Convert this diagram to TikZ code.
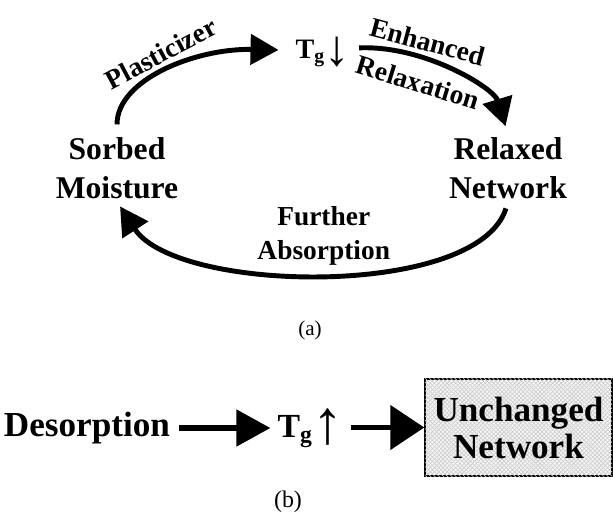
\documentclass[tikz,border=0pt]{standalone}
\usepackage{fontspec}
\setmainfont{Liberation Serif}
\usetikzlibrary{arrows.meta, positioning, patterns}

\begin{document}
\begin{tikzpicture}[x=0.025cm, y=-0.025cm,
        state/.style={
            font=\fontsize{22.5}{27.7}\selectfont\bfseries,
            align=center, inner sep=2pt
        },
        tg/.style={font=\fontsize{20}{24}\selectfont\bfseries, inner sep=1pt},
        lbl/.style={font=\fontsize{19.5}{24}\selectfont\bfseries, align=center},
        sublbl/.style={font=\fontsize{15}{17}\selectfont},
        cyc/.style={-{Triangle[length=0.7cm, width=0.75cm]}, line width=3.5pt},
        flow/.style={-{Triangle[length=0.85cm, width=0.9cm]}, line width=3.6pt},
        hatchbox/.style={
            rectangle, draw, line width=1pt,
            preaction={fill=black!4},
            pattern=north east lines, pattern color=black!20,
            postaction={pattern=north west lines, pattern color=black!20},
            font=\fontsize{25}{26.3}\selectfont\bfseries, align=center,
            minimum width=4.675cm, minimum height=2.425cm
        }
    ]
    \useasboundingbox (0,0) rectangle (613,514);

    % (a) sorption cycle
    \node[state] (sorbed) at (117,168) {Sorbed\\Moisture};
    \node[state] (relaxed) at (508,168) {Relaxed\\Network};
    \node[tg, anchor=base west] (tgdn) at (294,58)
        {T\textsubscript{g}{\mdseries\raisebox{-0.28em}{\fontsize{36}{36}\selectfont ↓}}};

    \draw[cyc, shorten <=7pt, shorten >=11pt] (sorbed.north)
        .. controls +(0,-55) and +(-98,-2) .. node[lbl, pos=0.5, rotate=28, above=2pt]{Plasticizer}
        ([yshift=5.5pt]tgdn.base west);
    \draw[cyc, shorten <=5pt, shorten >=6pt] ([yshift=7pt]tgdn.base east)
        .. controls +(73,-3) and +(-14,-46) .. node[lbl, pos=0.34, rotate=-15, above=1pt]{Enhanced}
        node[lbl, pos=0.34, rotate=-17, below=5pt]{Relaxation}
        (relaxed.north);
    \draw[cyc, shorten <=5pt, shorten >=4pt] (relaxed.south)
        .. controls +(-30,97) and +(60,92) .. node[lbl, pos=0.5, above=0pt]{Further\\Absorption}
        (sorbed.south);

    \node[sublbl] (capa) at (310,330) {(a)};

    % (b) desorption
    \node[state, font=\fontsize{25}{26.3}\selectfont\bfseries] (desorp) at (87,428) {Desorption};
    \node[tg, font=\fontsize{24}{28}\selectfont\bfseries, anchor=base west] (tgup) at (276,437)
        {T\textsubscript{g}{\mdseries\raisebox{-0.2em}{\fontsize{44}{44}\selectfont ↑}}};
    \node[hatchbox] (unch) at (518.5,427.5) {Unchanged\\Network};

    \draw[flow, shorten <=4pt, shorten >=4pt] (desorp.east) -- (desorp.east -| tgup.west);
    \draw[flow, -{Triangle[length=0.85cm, width=1.1cm]}, shorten <=4pt]
        (tgup.east |- unch.west) -- (unch.west);

    \node[sublbl, font=\fontsize{17}{19}\selectfont] (capb) at (288,502) {(b)};
\end{tikzpicture}
\end{document}
